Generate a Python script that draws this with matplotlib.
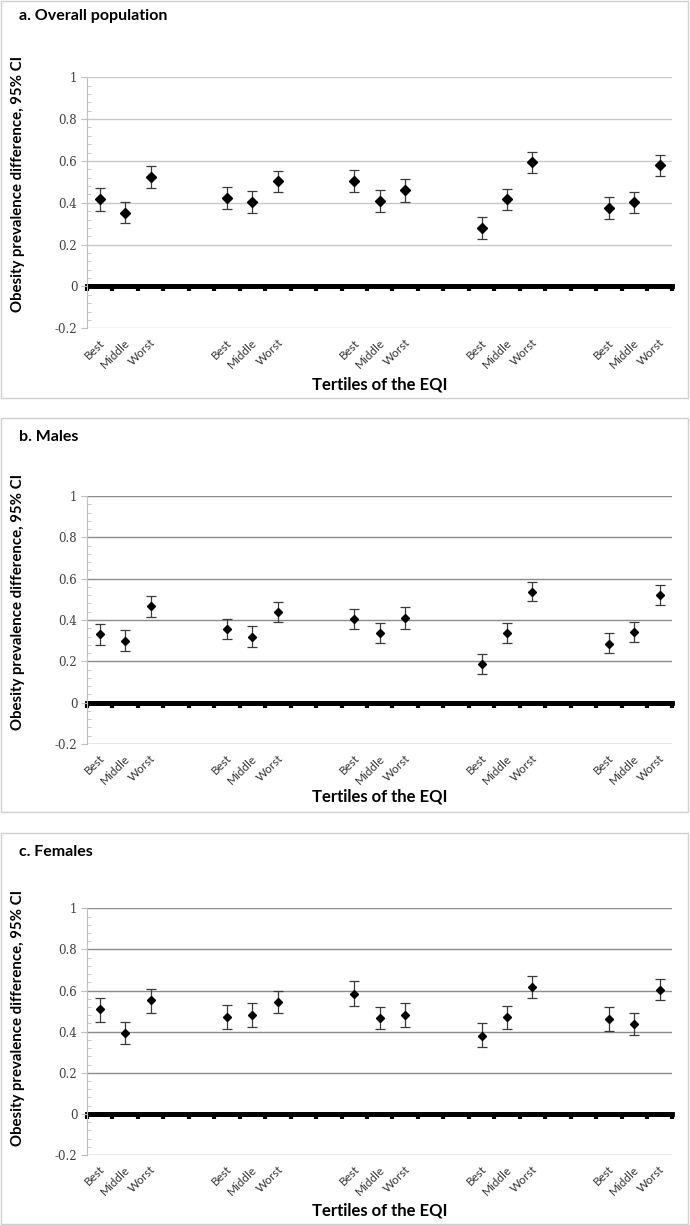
import matplotlib.pyplot as plt
from matplotlib.patches import Rectangle
from matplotlib.ticker import MultipleLocator, FuncFormatter
from matplotlib.transforms import ScaledTranslation

plt.rcParams['font.family'] = ['Lato', 'DejaVu Sans']

W, H = 690, 1225

tertiles = ["Best", "Middle", "Worst"]
categories = (tertiles + ["", ""]) * 4 + tertiles   # 23 category slots
positions = [g * 5 + k for g in range(5) for k in range(3)]

# a. overall population
est_a = [0.416, 0.352, 0.525, 0.424, 0.403, 0.503, 0.503, 0.410, 0.459,
         0.278, 0.419, 0.594, 0.373, 0.402, 0.579]
lo_a = [0.363, 0.303, 0.471, 0.368, 0.351, 0.454, 0.454, 0.357, 0.405,
        0.225, 0.365, 0.544, 0.321, 0.351, 0.530]
hi_a = [0.471, 0.405, 0.576, 0.476, 0.457, 0.552, 0.557, 0.462, 0.514,
        0.330, 0.467, 0.643, 0.427, 0.452, 0.629]

# b. males
est_b = [0.330, 0.300, 0.468, 0.355, 0.320, 0.439, 0.403, 0.335, 0.410,
         0.185, 0.335, 0.537, 0.285, 0.340, 0.519]
lo_b = [0.280, 0.250, 0.416, 0.310, 0.270, 0.392, 0.355, 0.290, 0.358,
        0.140, 0.290, 0.490, 0.240, 0.295, 0.471]
hi_b = [0.380, 0.350, 0.515, 0.405, 0.370, 0.487, 0.452, 0.385, 0.461,
        0.235, 0.385, 0.585, 0.335, 0.390, 0.568]

# c. females
est_c = [0.508, 0.395, 0.552, 0.471, 0.482, 0.544, 0.582, 0.468, 0.479,
         0.381, 0.469, 0.618, 0.461, 0.435, 0.603]
lo_c = [0.448, 0.342, 0.492, 0.411, 0.424, 0.492, 0.526, 0.415, 0.421,
        0.323, 0.415, 0.565, 0.403, 0.382, 0.552]
hi_c = [0.565, 0.448, 0.606, 0.531, 0.540, 0.600, 0.644, 0.521, 0.540,
        0.442, 0.524, 0.671, 0.521, 0.490, 0.656]

fig = plt.figure(figsize=(W / 100, H / 100), dpi=100)


def ytick_fmt(v, pos):
    return '%g' % round(v, 2)


def draw_panel(title, est, lo, hi, box, plot_top, plot_h, title_y, ylab_y, xlab_y, grid_col, ms):
    x0, y0, x1, y1 = box
    fig.patches.append(Rectangle((x0 / W, 1 - y1 / H), (x1 - x0) / W, (y1 - y0) / H,
                                 transform=fig.transFigure, fill=False, ec='#d0d0d0', lw=1))
    ax = fig.add_axes([87 / W, 1 - (plot_top + plot_h) / H, 585.5 / W, plot_h / H])
    ax.set_xlim(-0.5, 22.5)
    ax.set_ylim(-0.2, 1.0)
    ax.yaxis.set_major_locator(MultipleLocator(0.2))
    ax.yaxis.set_minor_locator(MultipleLocator(0.04))
    ax.yaxis.set_major_formatter(FuncFormatter(ytick_fmt))
    ax.grid(axis='y', which='major', color=grid_col, lw=1)
    ax.set_axisbelow(True)
    for s in ['top', 'right', 'bottom']:
        ax.spines[s].set_visible(False)
    ax.spines['left'].set_color('#bfbfbf')
    ax.tick_params(axis='y', which='major', direction='out', length=4, color='#bfbfbf',
                   labelsize=8.5, labelcolor='#404040', pad=3)
    ax.tick_params(axis='y', which='minor', direction='in', length=3, color='#bfbfbf')
    for lab in ax.get_yticklabels():
        lab.set_fontfamily('DejaVu Serif')

    ax.set_xticks(range(len(categories)))
    ax.set_xticklabels(categories, rotation=45, ha='right', va='center',
                       rotation_mode='anchor', fontsize=8.5, color='#333333')
    ax.tick_params(axis='x', length=0, pad=9)
    shift = ScaledTranslation(3 / 100, 0, fig.dpi_scale_trans)
    for lab in ax.get_xticklabels():
        lab.set_transform(lab.get_transform() + shift)

    # category axis crossing at zero
    ax.axhline(0, color='black', lw=3.5, zorder=2.5)
    sec = ax.secondary_xaxis(0, transform=ax.transData)
    sec.set_xticks([i - 0.5 for i in range(len(categories) + 1)], labels=[])
    sec.spines['bottom'].set_linewidth(3.5)
    sec.spines['bottom'].set_color('black')
    sec.tick_params(length=3.5, width=3, direction='out', color='black')

    err_lo = [e - l for e, l in zip(est, lo)]
    err_hi = [h - e for e, h in zip(est, hi)]
    ax.errorbar(positions, est, yerr=[err_lo, err_hi], fmt='D', color='black', ms=ms,
                ecolor='#3a3a3a', elinewidth=0.9, capsize=3.5, capthick=0.9, zorder=3)

    fig.text(19 / W, 1 - title_y / H, title, fontsize=11.5, fontweight='bold', va='center')
    fig.text(18 / W, 1 - ylab_y / H, 'Obesity prevalence difference, 95% CI', rotation=90,
             fontsize=10.8, fontweight='bold', ha='center', va='center')
    fig.text(380 / W, 1 - xlab_y / H, 'Tertiles of the EQI', fontsize=12, fontweight='bold',
             ha='center', va='center')
    return ax


draw_panel('a. Overall population', est_a, lo_a, hi_a, (1, 1, 688, 398), 77.3, 251,
           16, 184, 384, '#c8c8c8', 5.5)
draw_panel('b. Males', est_b, lo_b, hi_b, (1, 418, 688, 812), 496, 248,
           437, 602, 797, '#8c8c8c', 3.8)
draw_panel('c. Females', est_c, lo_c, hi_c, (1, 833, 688, 1224), 908.3, 246.7,
           852, 1018, 1211, '#8c8c8c', 3.8)

fig.savefig('out.png', dpi=100)
